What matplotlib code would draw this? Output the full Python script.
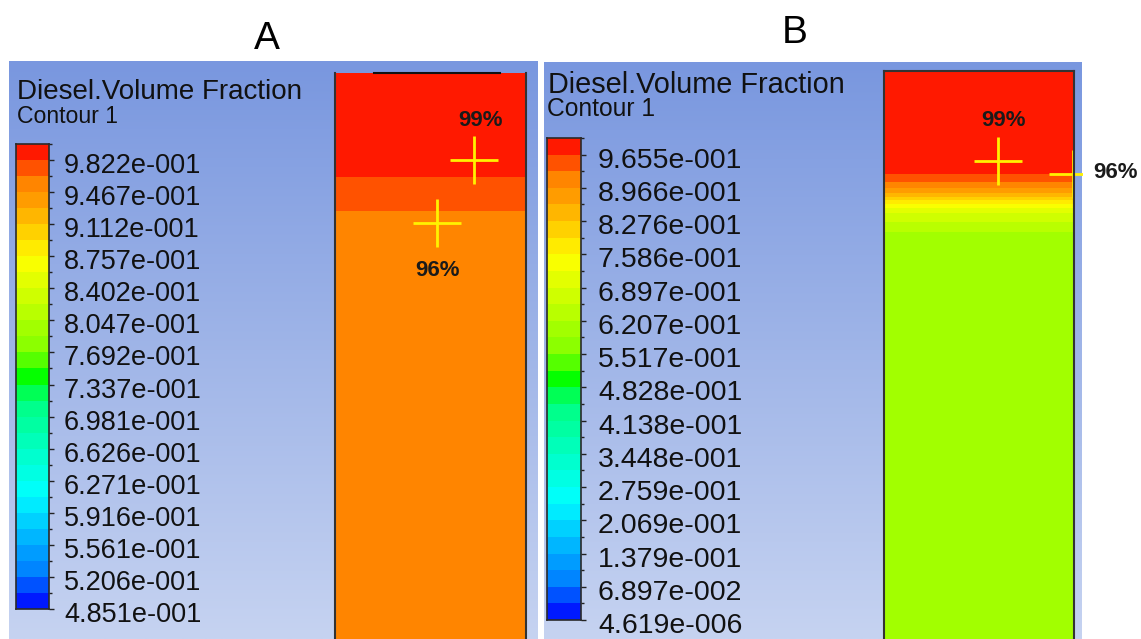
import numpy as np
import matplotlib
matplotlib.use("Agg")
import matplotlib.pyplot as plt
from matplotlib.colors import LinearSegmentedColormap, ListedColormap, BoundaryNorm
from matplotlib.transforms import ScaledTranslation

plt.rcParams['font.family'] = ['Liberation Sans', 'DejaVu Sans']

W, H = 1141, 639

# legend ranges of Diesel.Volume Fraction
N_BANDS = 29
range_a = (0.48506, 1.0)
range_b = (4.619e-6, 1.0)
ticklabels_a = ["4.851e-001", "5.206e-001", "5.561e-001", "5.916e-001", "6.271e-001",
                "6.626e-001", "6.981e-001", "7.337e-001", "7.692e-001", "8.047e-001",
                "8.402e-001", "8.757e-001", "9.112e-001", "9.467e-001", "9.822e-001"]
ticklabels_b = ["4.619e-006", "6.897e-002", "1.379e-001", "2.069e-001", "2.759e-001",
                "3.448e-001", "4.138e-001", "4.828e-001", "5.517e-001", "6.207e-001",
                "6.897e-001", "7.586e-001", "8.276e-001", "8.966e-001", "9.655e-001"]

# volume fraction down the column (depth measured from the top face)
depth_edges_a = [0, 104, 138, 566]
frac_a = [0.99, 0.975, 0.96]
depth_b = [0, 101, 103, 111, 117, 122, 126, 129, 133, 137, 142, 151, 161, 179, 568]
frac_b = [0.99, 0.99, 0.96, 0.93, 0.90, 0.86, 0.83, 0.79, 0.76, 0.72, 0.69, 0.655, 0.62, 0.60, 0.60]

# probe points: (position across column, depth, value)
probes_a = [(0.728, 87, 0.99), (0.534, 150, 0.96)]
probes_b = [(0.60, 90, 0.99), (0.995, 103, 0.96)]
# label offsets from each probe, pixels (right, down)
label_off_a = [(6, -39), (1, 47)]
label_off_b = [(6, -40), (42, -2)]

rainbow = LinearSegmentedColormap.from_list("ansys_rainbow", [
    (0.0, '#0000ff'), (0.08, '#0080ff'), (0.25, '#00ffff'), (0.45, '#00ff80'),
    (0.5, '#00ff00'), (0.55, '#80ff00'), (0.75, '#ffff00'), (0.92, '#ff8000'),
    (1.0, '#ff0000')])
band_cmap = ListedColormap(rainbow((np.arange(N_BANDS) + 0.5) / N_BANDS))
bg_cmap = LinearSegmentedColormap.from_list("bg", ['#7997df', '#c6d3f1'])

fig = plt.figure(figsize=(W / 100, H / 100), dpi=100)
fig.patch.set_facecolor('white')


def px_axes(x0, y0, x1, y1):
    return fig.add_axes([x0 / W, 1 - y1 / H, (x1 - x0) / W, (y1 - y0) / H])


def fig_text(x, y, s, **kw):
    fig.text(x / W, 1 - y / H, s, **kw)


def draw_panel(panel_box, bar_box, col_box, vrange, ticklabels, fs, pad):
    bg = px_axes(*panel_box)
    bg.imshow(np.linspace(0, 1, 256)[:, None], cmap=bg_cmap, aspect='auto',
              extent=(0, 1, 0, 1), origin='upper')
    bg.set_axis_off()

    levels = np.linspace(vrange[0], vrange[1], N_BANDS + 1)
    norm = BoundaryNorm(levels, N_BANDS)

    cb = px_axes(*bar_box)
    mids = (levels[:-1] + levels[1:]) / 2
    cb.pcolormesh([0, 1], levels, mids[:, None], cmap=band_cmap, norm=norm)
    cb.set_xlim(0, 1)
    cb.set_ylim(levels[0], levels[-1])
    cb.set_xticks([])
    cb.yaxis.tick_right()
    cb.set_yticks(levels[::2], ticklabels)
    cb.set_yticks(levels[1::2], minor=True)
    cb.tick_params(axis='y', which='major', length=3.6, width=1, color='#222222',
                   labelsize=fs, pad=pad, labelcolor='#111111')
    cb.tick_params(axis='y', which='minor', length=2.2, width=1, color='#222222')
    # nudge the value labels a little below their tick
    shift = ScaledTranslation(0, -3 / 100, fig.dpi_scale_trans)
    for lbl in cb.get_yticklabels():
        lbl.set_transform(lbl.get_transform() + shift)
    for sp in cb.spines.values():
        sp.set_color('#2a2a2a')
        sp.set_linewidth(1.2)

    col = px_axes(*col_box)
    col.set_xlim(0, 1)
    col.set_xticks([])
    col.set_yticks([])
    for sp in col.spines.values():
        sp.set_color('#333333')
        sp.set_linewidth(1.5)
    col.spines['bottom'].set_visible(False)
    return bg, col, norm, levels


# panel A
bg_a, col_a, norm_a, lev_a = draw_panel((9, 61, 538, 639), (16, 144, 49, 609),
                                        (335, 73, 526, 639), range_a, ticklabels_a, 19.5, 7.2)
col_a.pcolormesh([0, 1], depth_edges_a, np.array(frac_a)[:, None], cmap=band_cmap, norm=norm_a)
col_a.set_ylim(depth_edges_a[-1], 0)
col_a.spines['top'].set_visible(False)
col_a.plot([0.204, 0.864], [0, 0], color='#111111', lw=1.5, clip_on=False)

# panel B
bg_b, col_b, norm_b, lev_b = draw_panel((544, 62, 1082, 639), (547, 138, 581, 620),
                                        (884, 71, 1074, 639), range_b, ticklabels_b, 20.5, 8.6)
zb = np.tile(np.array(frac_b)[:, None], (1, 2))
col_b.contourf([0, 1], depth_b, zb, levels=lev_b, cmap=band_cmap, norm=norm_b,
               antialiased=False)
col_b.set_ylim(depth_b[-1], 0)

# probes with their values
for col, bg, probes, offs in [(col_a, bg_a, probes_a, label_off_a),
                              (col_b, bg_b, probes_b, label_off_b)]:
    for (px, d, v), (dx, dy) in zip(probes, offs):
        ln, = col.plot(px, d, marker='+', ms=34, mew=2, color='#fff200',
                       linestyle='none', clip_on=True)
        ln.set_clip_box(bg.bbox)
        col.annotate(f"{v:.0%}", (px, d), xytext=(dx, -dy), textcoords='offset pixels',
                     ha='center', va='center', fontsize=16, fontweight='bold',
                     color='#1a1a1a', annotation_clip=False)

# legend titles
fig_text(17, 99, "Diesel.Volume Fraction", fontsize=20, color='#111111', va='baseline')
fig_text(17, 123, "Contour 1", fontsize=16.6, color='#111111', va='baseline')
fig_text(548, 93, "Diesel.Volume Fraction", fontsize=20.8, color='#111111', va='baseline')
fig_text(547, 116, "Contour 1", fontsize=17.7, color='#111111', va='baseline')

# case headers
fig_text(267, 49, "A", fontsize=28, ha='center', va='baseline', color='black')
fig_text(795, 43, "B", fontsize=28, ha='center', va='baseline', color='black')

fig.savefig("out.png", dpi=100)
